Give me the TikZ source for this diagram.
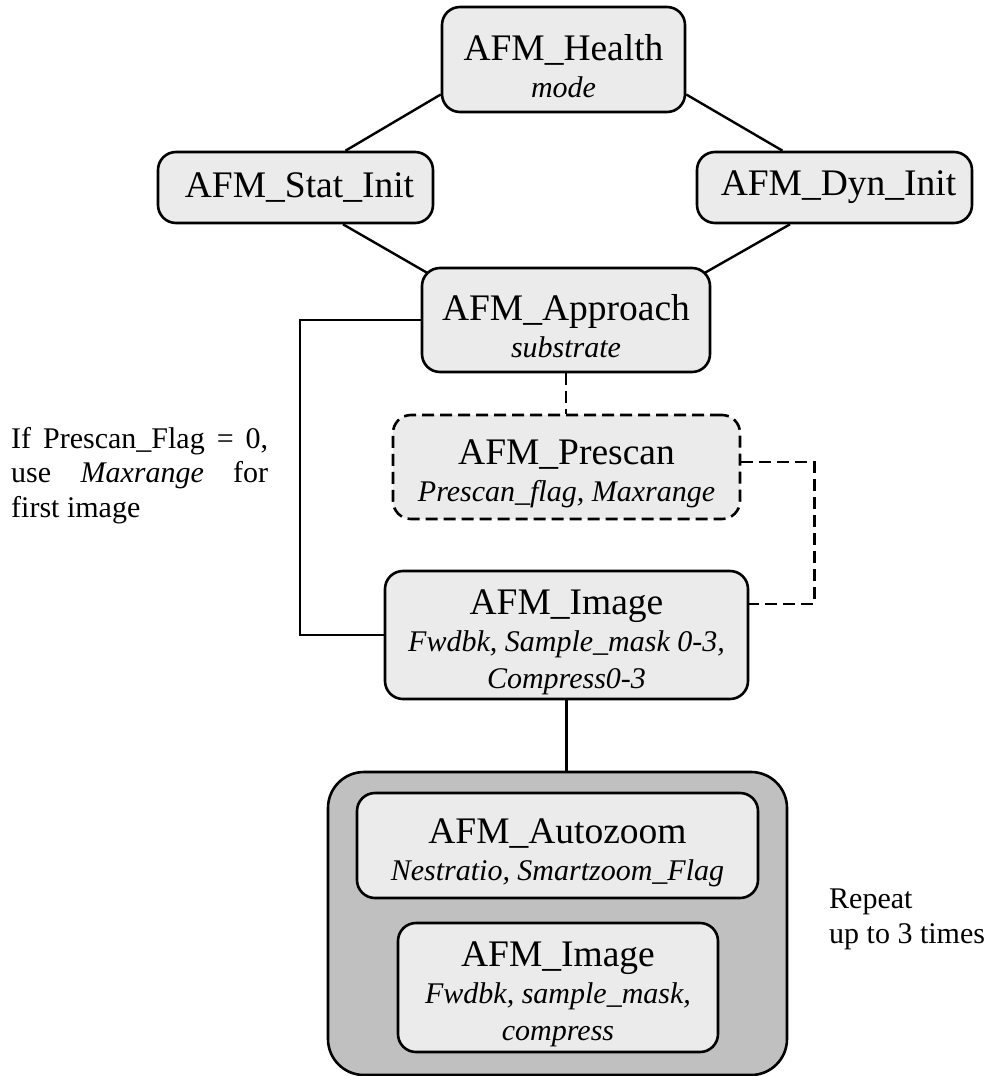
\documentclass[tikz,border=0pt]{standalone}
\usepackage{fontspec}
\setmainfont{Liberation Serif}
\usetikzlibrary{calc,backgrounds}
\definecolor{boxgray}{HTML}{EBEBEB}
\definecolor{groupgray}{HTML}{C0C0C0}
\newcommand\subline[1]{{\fontsize{30}{36}\selectfont\itshape #1}}
\newcommand\topstrut{\rule{0pt}{39pt}}
\begin{document}
\begin{tikzpicture}[x=1pt,y=-1pt,
  flowbox/.style={draw=black, line width=2.6pt, rounded corners=18pt, fill=boxgray,
    align=center, inner sep=0pt, font=\fontsize{37.5}{37}\selectfont},
  dashbox/.style={flowbox, dash pattern=on 12pt off 6pt},
  groupbox/.style={draw=black, line width=2.6pt, rounded corners=36pt, fill=groupgray, inner sep=0pt},
  link/.style={line width=2.4pt},
  dashlink/.style={link, dash pattern=on 12pt off 6pt},
  note/.style={font=\fontsize{30}{34.5}\selectfont, inner sep=0pt}]
\useasboundingbox (0,0) rectangle (988,1076);

\node[flowbox, minimum width=243pt, minimum height=105pt] (health) at (563.5,59.5) {\topstrut AFM\_Health\\\subline{mode}};
\node[flowbox, minimum width=275pt, minimum height=71pt] (stat) at (295.5,187.5) {\hspace*{8pt}AFM\_Stat\_Init};
\node[flowbox, minimum width=275pt, minimum height=71pt] (dyn) at (834.5,187.5) {\hspace*{8pt}AFM\_Dyn\_Init};
\node[flowbox, minimum width=288pt, minimum height=104pt] (approach) at (566,320) {\topstrut AFM\_Approach\\\subline{substrate}};
\node[dashbox, minimum width=347pt, minimum height=104pt] (prescan) at (566.5,467) {\topstrut AFM\_Prescan\\\subline{Prescan\_flag, Maxrange}};
\node[flowbox, minimum width=363pt, minimum height=128pt] (image) at (566.5,635) {\topstrut AFM\_Image\\\subline{Fwdbk, Sample\_mask 0-3,}\\\subline{Compress0-3}};
\node[groupbox, minimum width=459pt, minimum height=303pt] (group) at (557.5,923.5) {};
\node[flowbox, minimum width=401pt, minimum height=105pt] (autozoom) at (557.5,845.5) {\topstrut AFM\_Autozoom\\\subline{Nestratio, Smartzoom\_Flag}};
\node[flowbox, minimum width=320pt, minimum height=129pt] (image2) at (558,987.5) {\topstrut AFM\_Image\\\subline{Fwdbk, sample\_mask,}\\\subline{compress}};

\node[note, text width=257pt, align=justify, anchor=north west] (cond) at (11,427)
  {\hyphenpenalty=10000\tolerance=10000 If Prescan\_Flag =~0, use \textit{Maxrange} for first image};
\node[note, align=left, anchor=north west] (repeat) at (829,889) {Repeat\\up to 3 times};

\begin{scope}[on background layer]
\draw[link] ($(health.west)+(0,35)$) -- ($(stat.north)+(50,0)$);
\draw[link] ($(health.east)+(0,35)$) -- ($(dyn.north)+(-52,0)$);
\draw[link] ($(stat.south)+(47.5,0)$) -- ($(approach.north west)+(8,7)$);
\draw[link] ($(dyn.south)+(-44.5,0)$) -- ($(approach.north east)+(-8,7)$);
\draw[dashlink] (approach.south) -- (approach.south |- prescan.north);
\draw[dashlink] ($(prescan.east)+(0,-5)$) -| ($(image.east)+(65,-31)$) -- ($(image.east)+(0,-31)$);
\draw[link] (approach.west) -- ++(-121,0) |- (image.west);
\draw[link] (image.south) -- (image.south |- group.north);
\end{scope}
\end{tikzpicture}
\end{document}
